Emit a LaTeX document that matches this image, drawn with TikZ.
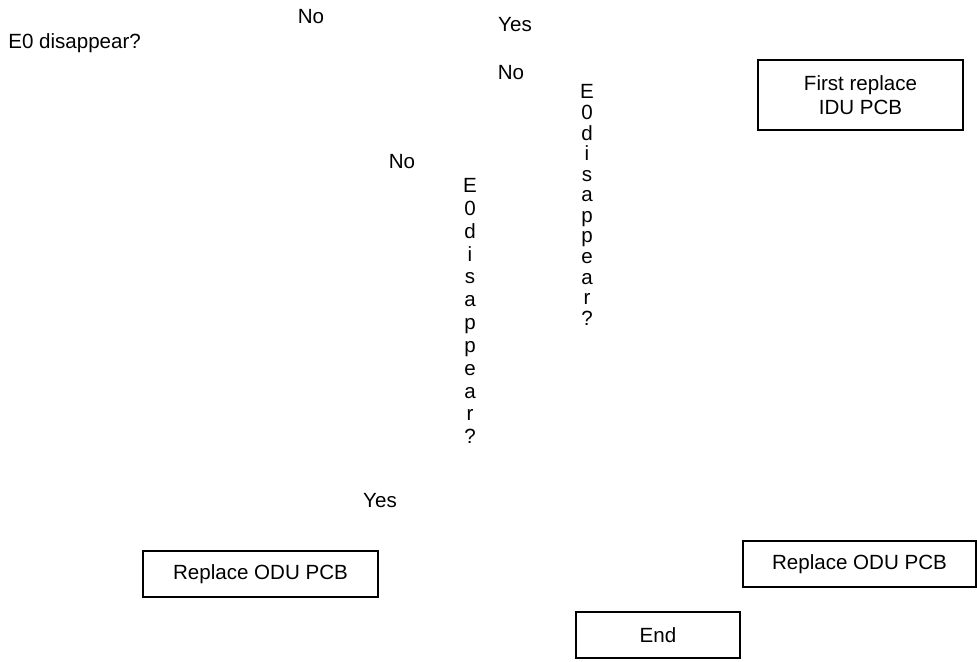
\documentclass[tikz,border=0pt]{standalone}
\usepackage{fontspec}
\setmainfont{Liberation Sans}
\usepackage{tikz}
\usetikzlibrary{positioning}

\newcommand{\flowfont}{\fontsize{11.7}{13.4}\selectfont}
\tikzset{
  box/.style={draw, line width=1.1pt, inner sep=0pt, align=center},
  lbl/.style={inner sep=0pt, anchor=base},
  column/.style={inner sep=0pt, anchor=north, align=center}
}

\begin{document}
\begin{tikzpicture}[x=0.02cm, y=-0.02cm, every node/.style={font=\flowfont}]
        \useasboundingbox (0,0) rectangle (977,662);

        \node (Ask)[lbl, anchor=base west] at (8,49) {E0 disappear?};
        \node (NoTop)[lbl] at (311,24) {No};
        \node (YesTop)[lbl] at (515,32) {Yes};
        \node (NoRight)[lbl] at (511,80) {No};
        \node (NoMid)[lbl] at (402,169) {No};
        \node (YesLow)[lbl] at (380,507) {Yes};

        \node (AskLeft)[column, font={\fontsize{11.7}{13.0}\selectfont}] at (470,178)
            {E\\0\\d\\i\\s\\a\\p\\p\\e\\a\\r\\?};
        \node (AskRight)[column, font={\fontsize{11.7}{11.7}\selectfont}] at (587,84.5)
            {E\\0\\d\\i\\s\\a\\p\\p\\e\\a\\r\\?};

        \node (IDU)[box, minimum width=4.10cm, minimum height=1.40cm] at (860.5,95)
            {First replace\\IDU PCB};
        \node (ODULeft)[box, minimum width=4.70cm, minimum height=0.92cm] at (260.5,574)
            {Replace ODU PCB};
        \node (ODURight)[box, minimum width=4.66cm, minimum height=0.92cm] at (859.5,564)
            {Replace ODU PCB};
        \node (End)[box, minimum width=3.28cm, minimum height=0.92cm] at (658,635)
            {End};
    \end{tikzpicture}
\end{document}
